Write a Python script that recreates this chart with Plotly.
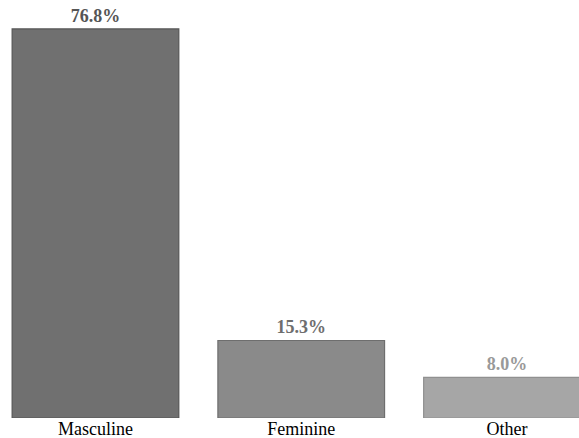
import plotly.graph_objects as go

categories = ["Masculine", "Feminine", "Other"]
values = [76.8, 15.3, 8.0]
labels = ["76.8%", "15.3%", "8.0%"]
fill_colors = ["#707070", "#8a8a8a", "#a6a6a6"]
line_colors = ["#555555", "#6e6e6e", "#909090"]
text_colors = ["#555555", "#6e6e6e", "#999999"]

SERIF = "Liberation Serif"

fig = go.Figure(go.Bar(
    x=categories, y=values, text=labels, textposition="outside",
    marker=dict(color=fill_colors, line=dict(color=line_colors, width=1.2)),
    textfont=dict(family=SERIF, size=18, color=text_colors),
    cliponaxis=False,
))
fig.update_traces(texttemplate="<b>%{text}</b>")
fig.update_layout(
    width=579, height=438,
    margin=dict(l=0, r=0, t=0, b=20, autoexpand=False),
    paper_bgcolor="white", plot_bgcolor="white",
    bargap=0.19, showlegend=False,
    font=dict(family=SERIF),
    xaxis=dict(range=[-0.464, 2.350], showgrid=False, showline=False, zeroline=False,
               automargin=False, ticks="", ticklabelstandoff=-2,
               tickfont=dict(family=SERIF, size=18, color="black")),
    yaxis=dict(range=[0, 82.5], visible=False, automargin=False),
)
fig.write_html("out.html")
